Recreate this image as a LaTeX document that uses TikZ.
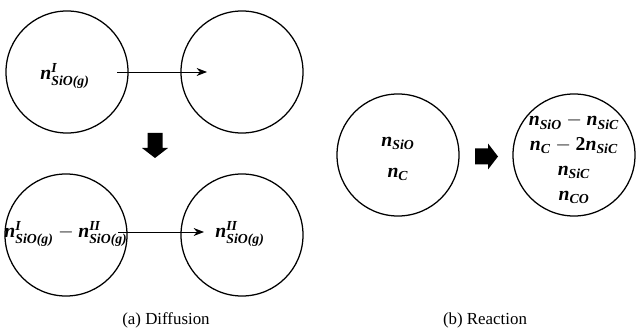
\documentclass[tikz,border=0pt]{standalone}
\usepackage{amsmath}
\usepackage{fontspec}
\setmainfont{Liberation Serif}
\usetikzlibrary{positioning,arrows.meta,calc}

\newcommand{\bn}{\textbf{\textit{n}}}
\newcommand{\spc}[1]{\textbf{\textit{#1}}}

\tikzset{
  cell/.style={circle, draw, line width=0.9pt, minimum size=3.05cm, inner sep=0pt},
  conc/.style={font=\fontsize{14}{17.7}\selectfont, inner sep=1pt},
  flow/.style={-{Stealth[length=2.6mm,width=2mm]}, line width=0.6pt},
  caption/.style={font=\fontsize{12}{14}\selectfont}
}

\begin{document}
\begin{tikzpicture}[x=0.025cm, y=0.025cm]
  \useasboundingbox (0,0) rectangle (636,334);

  % (a) diffusion
  \node[cell] (d1) at (67,262) {};
  \node[cell] (d2) at (242,262) {};
  \node[cell] (d3) at (66,99) {};
  \node[cell] (d4) at (242,99) {};

  \node[conc] (m1) at (65,258) {$\bn^{\spc{I}}_{\spc{SiO(g)}}$};
  \node[conc] (m3) at (66,100) {$\bn^{\spc{I}}_{\spc{SiO(g)}}-\bn^{\spc{II}}_{\spc{SiO(g)}}$};
  \node[conc] (m4) at (240,100) {$\bn^{\spc{II}}_{\spc{SiO(g)}}$};

  \coordinate (a1) at (117,262);
  \coordinate (a2) at (207,262);
  \coordinate (b1) at (118,102);
  \coordinate (b2) at (204,102);
  \draw[flow] (a1) -- (a2);
  \draw[flow] (b1) -- (b2);

  % block arrow down
  \fill (147.5,201) -- (162.5,201) -- (162.5,186) -- (168,186) -- (155,176)
    -- (142,186) -- (147.5,186) -- cycle;

  % (b) reaction
  \node[cell] (r1) at (398,179) {};
  \node[cell] (r2) at (574,179) {};
  \node[conc, align=center, font=\fontsize{14}{22}\selectfont] (k1) at (398,175)
    {$\bn_{\spc{SiO}}$\\$\bn_{\spc{C}}$};
  \node[conc, align=center] (k2) at (574,175)
    {$\bn_{\spc{SiO}}-\bn_{\spc{SiC}}$\\
     $\bn_{\spc{C}}-\textbf{2}\bn_{\spc{SiC}}$\\
     $\bn_{\spc{SiC}}$\\
     $\bn_{\spc{CO}}$};

  % block arrow right
  \fill (475,169.5) -- (475,185.5) -- (488,185.5) -- (488,190.5) -- (498,177.5)
    -- (488,164.5) -- (488,169.5) -- cycle;

  \node[caption] (ca) at (166,14) {(a) Diffusion};
  \node[caption] (cb) at (485,14) {(b) Reaction};
\end{tikzpicture}
\end{document}
